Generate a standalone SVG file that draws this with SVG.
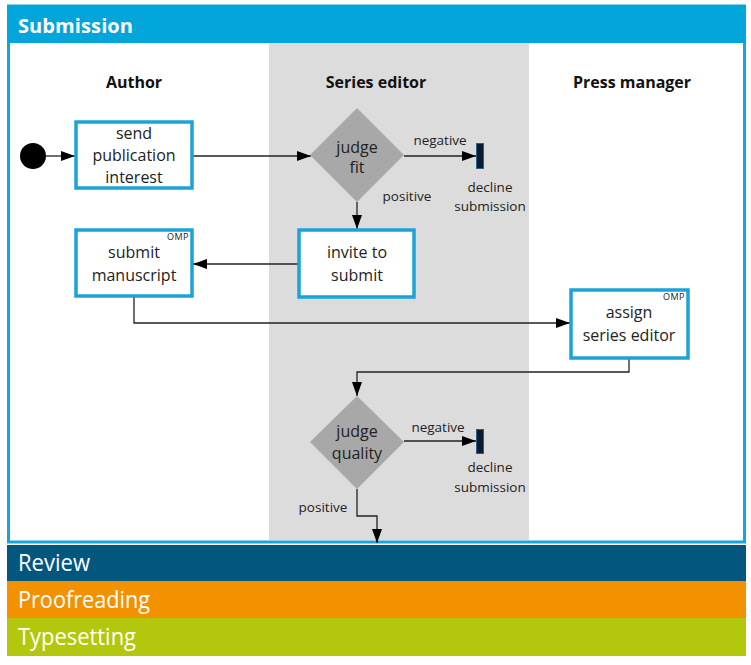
<svg xmlns="http://www.w3.org/2000/svg" width="751" height="665" viewBox="0 0 751 665">
<defs>
<marker id="arr" viewBox="0 0 14 10" refX="14" refY="5" markerWidth="14" markerHeight="10" markerUnits="userSpaceOnUse" orient="auto">
<path d="M0,0 L14,5 L0,10 Z" fill="#000"/>
</marker>
<style>
text{font-family:"Open Sans","Liberation Sans",sans-serif;}
.box{fill:#fff;stroke:#1ba3d6;stroke-width:3.5;}
.t{font-size:16px;fill:#222;text-anchor:middle;}
.lbl{font-size:13.5px;fill:#222;text-anchor:middle;}
.hdr{font-size:16px;font-weight:bold;fill:#111;text-anchor:middle;}
.omp{font-size:9px;fill:#222;text-anchor:end;letter-spacing:0.5px;}
.dia{fill:#a8a8a8;}
.bar{fill:#0b1a30;stroke:#2a5f8a;stroke-width:1;}
.ln{fill:none;stroke:#222;stroke-width:1.3;}
.band{font-size:23px;fill:#fff;}
</style>
</defs>

<g id="submission-frame">
<rect x="8.5" y="6" width="736" height="536" fill="#fff" stroke="#17a6da" stroke-width="3"/>
<rect x="269" y="43" width="260" height="497" fill="#dcdcdc"/>
<rect x="7" y="5" width="739" height="38" fill="#02a6db"/>
<text x="18" y="33" font-size="20" font-weight="bold" fill="#fff" textLength="115">Submission</text>
</g>

<g id="lane-headers">
<text class="hdr" x="134" y="88">Author</text>
<text class="hdr" x="376" y="88">Series editor</text>
<text class="hdr" x="632" y="88">Press manager</text>
</g>

<g id="connectors">
<line class="ln" x1="46" y1="156" x2="75" y2="156" marker-end="url(#arr)"/>
<line class="ln" x1="193" y1="156" x2="311" y2="156" marker-end="url(#arr)"/>
<line class="ln" x1="404" y1="156" x2="476" y2="156" marker-end="url(#arr)"/>
<line class="ln" x1="357" y1="202" x2="357" y2="229" marker-end="url(#arr)"/>
<line class="ln" x1="298" y1="264" x2="193" y2="264" marker-end="url(#arr)"/>
<polyline class="ln" points="134,297 134,323 570,323" marker-end="url(#arr)"/>
<polyline class="ln" points="629,358 629,372 357,372 357,396" marker-end="url(#arr)"/>
<line class="ln" x1="404" y1="441" x2="476" y2="441" marker-end="url(#arr)"/>
<polyline class="ln" points="357,489 357,516 377,516 377,543" marker-end="url(#arr)"/>
<text class="lbl" x="440" y="145">negative</text>
<text class="lbl" x="407" y="201">positive</text>
<text class="lbl" x="438" y="432">negative</text>
<text class="lbl" x="323" y="512">positive</text>
</g>

<g id="start">
<circle cx="33" cy="156" r="13" fill="#000"/>
</g>

<g id="send-publication-interest">
<rect class="box" x="76" y="122" width="116" height="66"/>
<text class="t" x="134" y="139">send</text>
<text class="t" x="134" y="161">publication</text>
<text class="t" x="134" y="183">interest</text>
</g>

<g id="judge-fit">
<polygon class="dia" points="357,108 404,155 357,202 310,155"/>
<text class="t" x="357" y="153">judge</text>
<text class="t" x="357" y="173">fit</text>
</g>

<g id="decline-1">
<rect class="bar" x="476.5" y="143.5" width="7" height="25"/>
<text class="lbl" x="490" y="192">decline</text>
<text class="lbl" x="490" y="211">submission</text>
</g>

<g id="invite-to-submit">
<rect class="box" x="299" y="230" width="115" height="67"/>
<text class="t" x="357" y="258">invite to</text>
<text class="t" x="357" y="281">submit</text>
</g>

<g id="submit-manuscript">
<rect class="box" x="76" y="230" width="116" height="66"/>
<text class="omp" x="189" y="240">OMP</text>
<text class="t" x="134" y="258">submit</text>
<text class="t" x="134" y="281">manuscript</text>
</g>

<g id="assign-series-editor">
<rect class="box" x="571" y="290" width="117" height="68"/>
<text class="omp" x="685" y="300">OMP</text>
<text class="t" x="629" y="318">assign</text>
<text class="t" x="629" y="341">series editor</text>
</g>

<g id="judge-quality">
<polygon class="dia" points="357,396 404,442 357,489 310,442"/>
<text class="t" x="357" y="437">judge</text>
<text class="t" x="357" y="459">quality</text>
</g>

<g id="decline-2">
<rect class="bar" x="476.5" y="429.5" width="7" height="24"/>
<text class="lbl" x="490" y="472">decline</text>
<text class="lbl" x="490" y="492">submission</text>
</g>

<g id="review">
<rect x="7" y="545" width="739" height="36" fill="#03577f"/>
<text class="band" x="18" y="571" textLength="72" lengthAdjust="spacingAndGlyphs">Review</text>
</g>
<g id="proofreading">
<rect x="7" y="581" width="739" height="37" fill="#f39200"/>
<text class="band" x="18" y="608" textLength="132" lengthAdjust="spacingAndGlyphs">Proofreading</text>
</g>
<g id="typesetting">
<rect x="7" y="618" width="739" height="38" fill="#b3c80c"/>
<text class="band" x="18" y="645" textLength="118" lengthAdjust="spacingAndGlyphs">Typesetting</text>
</g>
</svg>
